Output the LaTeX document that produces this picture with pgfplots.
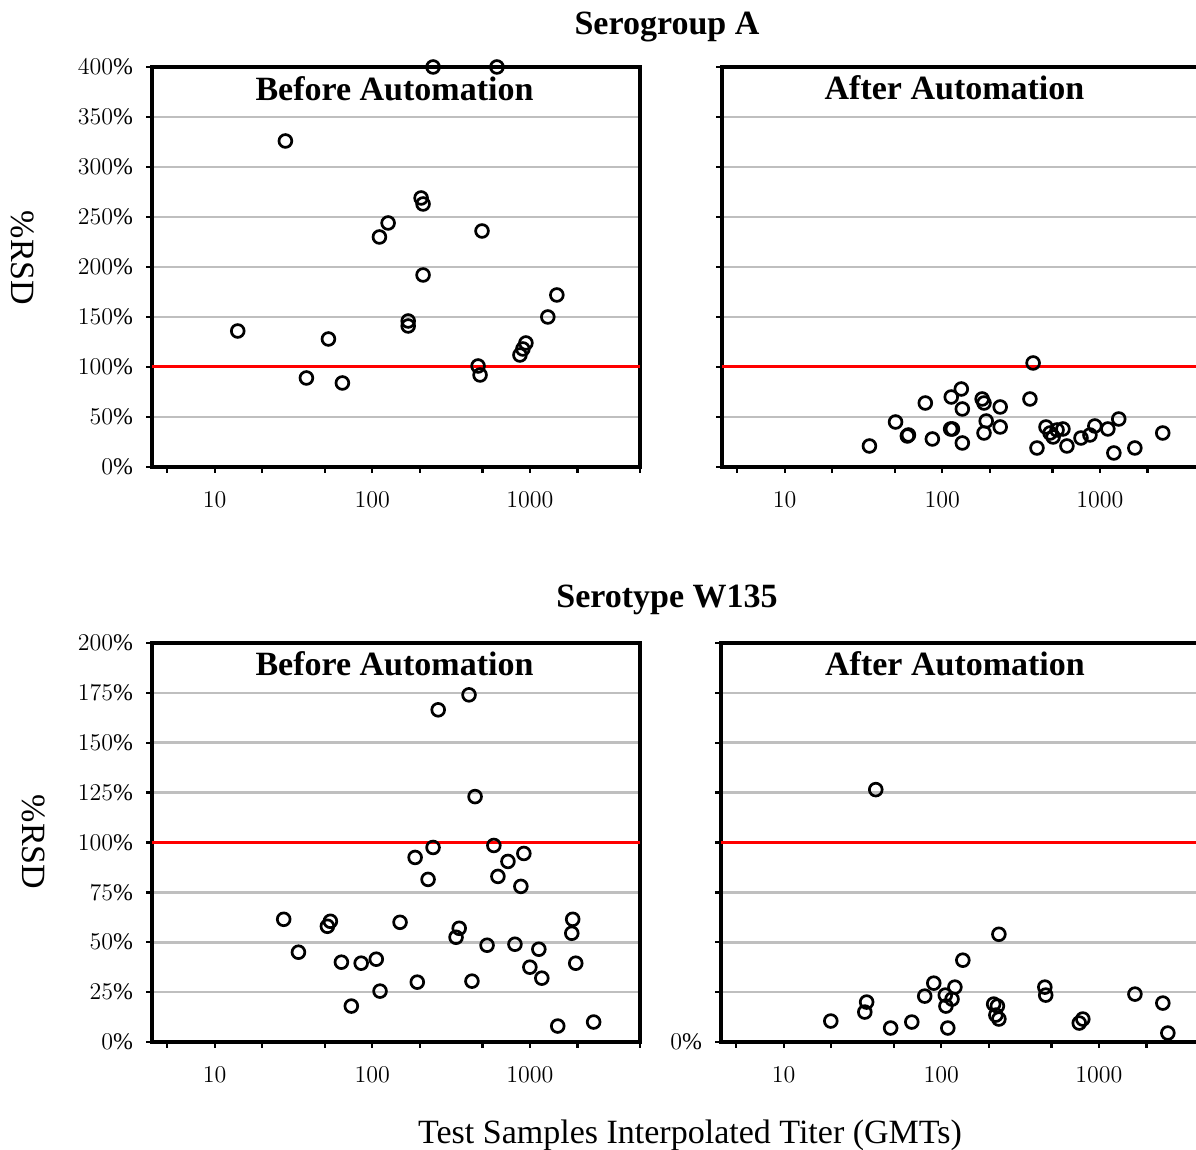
\documentclass[border=0pt]{standalone}
\usepackage{fontspec}
\setmainfont{Liberation Serif}
\usepackage{pgfplots}
\pgfplotsset{compat=1.18}

\definecolor{gridgray}{HTML}{BFBFBF}
\definecolor{refred}{HTML}{FF0000}

\pgfplotsset{
  every axis/.append style={
    xmode=log, xmin=4, xmax=5000,
    scale only axis, width=244pt,
    axis line style={line width=1.6pt},
    tick style={line width=1.2pt, black},
    major tick length=3pt,
    tick align=outside,
    xtick pos=bottom, ytick pos=left,
    xtick={5,10,20,50,100,200,500,1000,2000,5000},
    xticklabels={,$10$,,,$100$,,,$1000$,,},
    xminorticks=false,
    ymajorgrids, major grid style={gridgray, line width=1.3pt},
    xticklabel style={font=\fontsize{11.7}{12}\selectfont, yshift=-6pt},
    yticklabel style={font=\fontsize{11.9}{12}\selectfont, xshift=-3pt},
    clip=false,
  },
}

\begin{document}
\begin{tikzpicture}
\useasboundingbox (0,0) rectangle (598pt,575pt);

% ---------- Serogroup A, before ----------
\begin{axis}[anchor=south west, at={(76pt,341.5pt)},
  ymin=0, ymax=400, ytick={0,50,...,400}, height=200pt,
  yticklabels={$0\%$,$50\%$,$100\%$,$150\%$,$200\%$,$250\%$,$300\%$,$350\%$,$400\%$}]
\addplot[refred, line width=1.5pt, no marks] coordinates {(4,100) (5000,100)};
\addplot[only marks, mark=o, mark size=3.2pt, mark options={line width=1.35pt, black}] coordinates {
(28.1,326) (14.0,136) (38.2,89) (52.7,128) (64.6,84) (111,230) (126,244)
(243,400) (618,400) (204,269) (210,263) (497,236) (210,192) (169,146)
(169,141) (469,101) (483,92) (865,112) (903,118) (944,124) (1300,150) (1483,172)};
\end{axis}

% ---------- Serogroup A, after ----------
\begin{axis}[anchor=south west, at={(361pt,341.5pt)},
  ymin=0, ymax=400, ytick={0,50,...,400}, height=200pt,
  yticklabels={}]
\addplot[refred, line width=1.5pt, no marks] coordinates {(4,100) (5000,100)};
\addplot[only marks, mark=o, mark size=3.2pt, mark options={line width=1.35pt, black}] coordinates {
(377,104) (132,78) (114,70) (78,64) (179,68) (184,64) (134,58) (233,60)
(360,68) (50.5,45) (190,46) (60,31) (61,32) (86.5,28) (113,38) (116,38)
(134,24) (184,34) (233,40) (34.5,21) (399,19) (455,40) (483,34) (505,30)
(535,37) (583,38) (618,21) (759,29) (865,32) (929,41) (1124,38) (1318,48)
(1227,14) (1667,19) (2506,34)};
\end{axis}

% ---------- Serotype W135, before ----------
\begin{axis}[anchor=south west, at={(76pt,54pt)},
  ymin=0, ymax=200, ytick={0,25,...,200}, height=199.5pt,
  yticklabels={$0\%$,$25\%$,$50\%$,$75\%$,$100\%$,$125\%$,$150\%$,$175\%$,$200\%$}]
\addplot[refred, line width=1.5pt, no marks] coordinates {(4,100) (5000,100)};
\addplot[only marks, mark=o, mark size=3.2pt, mark options={line width=1.35pt, black}] coordinates {
(27.4,61.5) (34.0,45) (54.2,60.5) (51.9,58) (63.7,40) (85,39.5) (106,41.5)
(112,25.5) (73.6,18) (150,60) (411,174) (262,166.5) (449,123) (243,97.5)
(591,98.5) (187,92.5) (226,81.5) (726,90.5) (916,94.5) (627,83) (877,78)
(356,57) (340,52.5) (535,48.5) (804,49) (1140,46.5) (1870,61.5) (1845,54.5)
(1955,39.5) (1000,37.5) (1191,32) (193,30) (429,30.5) (1503,8) (2540,10)};
\end{axis}

% ---------- Serotype W135, after ----------
\begin{axis}[anchor=south west, at={(360.5pt,54pt)},
  ymin=0, ymax=200, ytick={0,25,...,200}, height=199.5pt,
  yticklabels={$0\%$,,,,,,,,}]
\addplot[refred, line width=1.5pt, no marks] coordinates {(4,100) (5000,100)};
\addplot[only marks, mark=o, mark size=3.2pt, mark options={line width=1.35pt, black}] coordinates {
(38.4,126.5) (232,54) (137,41) (89.6,29.5) (122,27.5) (78.5,23) (106,23.5)
(117,21.5) (107,18) (110,7) (33.6,20) (32.7,15) (19.9,10.5) (47.7,7) (65,10)
(215,19) (227,18) (222,13.5) (232,11.5) (454,27.5) (460,23.5) (791,11.5)
(751,9.5) (1694,24) (2546,19.5) (2740,4.5)};
\end{axis}

% ---------- titles and labels ----------
\node[font=\fontsize{17}{20}\selectfont\bfseries] at (333.5pt,561.5pt) {Serogroup A};
\node[font=\fontsize{17}{20}\selectfont\bfseries] at (333.5pt,275pt) {Serotype W135};
\node[font=\fontsize{17}{20}\selectfont\bfseries, anchor=base] at (197.25pt,524.5pt) {Before Automation};
\node[font=\fontsize{17}{20}\selectfont\bfseries, anchor=base] at (477.25pt,525pt) {After Automation};
\node[font=\fontsize{17}{20}\selectfont\bfseries, anchor=base] at (197.25pt,237pt) {Before Automation};
\node[font=\fontsize{17}{20}\selectfont\bfseries, anchor=base] at (477.5pt,237pt) {After Automation};
\node[font=\fontsize{17}{20}\selectfont, rotate=-90] at (11.5pt,446pt) {$\%$RSD};
\node[font=\fontsize{17}{20}\selectfont, rotate=-90] at (17pt,154pt) {$\%$RSD};
\node[font=\fontsize{17}{20}\selectfont, anchor=base] at (345pt,3pt) {Test Samples Interpolated Titer (GMTs)};
\end{tikzpicture}
\end{document}
